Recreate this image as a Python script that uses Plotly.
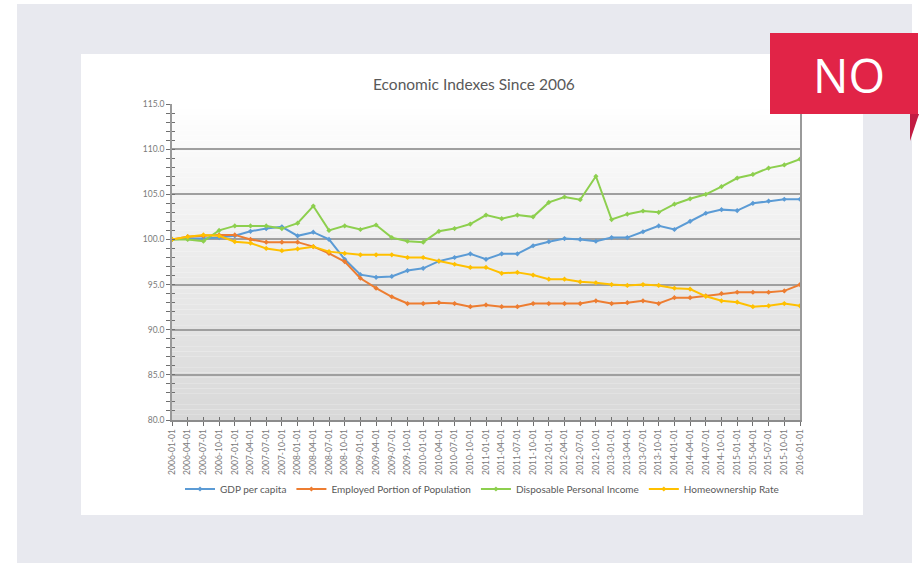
import plotly.graph_objects as go

dates = []
for yr in range(2006, 2016):
    for m in ("01", "04", "07", "10"):
        dates.append(f"{yr}-{m}-01")
dates.append("2016-01-01")

gdp = [100, 100.1, 100.1, 100.2, 100.4, 100.9, 101.2, 101.4, 100.4, 100.8,
       100.0, 97.8, 96.1, 95.8, 95.9, 96.55, 96.8, 97.6, 98.0, 98.4,
       97.8, 98.4, 98.4, 99.3, 99.75, 100.1, 100.0, 99.8, 100.2, 100.2,
       100.85, 101.5, 101.1, 102.0, 102.9, 103.3, 103.2, 104.0, 104.25, 104.45,
       104.45]
employed = [100, 100.3, 100.4, 100.5, 100.5, 100.0, 99.7, 99.7, 99.7, 99.2,
            98.45, 97.55, 95.7, 94.6, 93.65, 92.9, 92.9, 93.0, 92.9, 92.55,
            92.75, 92.55, 92.55, 92.9, 92.9, 92.9, 92.9, 93.2, 92.9, 93.0,
            93.2, 92.9, 93.55, 93.55, 93.75, 94.0, 94.15, 94.15, 94.15, 94.3,
            95.0]
income = [100, 100, 99.8, 101.0, 101.5, 101.5, 101.5, 101.2, 101.8, 103.7,
          101.0, 101.5, 101.1, 101.6, 100.2, 99.8, 99.7, 100.9, 101.2, 101.7,
          102.7, 102.3, 102.7, 102.5, 104.1, 104.7, 104.4, 107.0, 102.2, 102.8,
          103.15, 103.0, 103.9, 104.5, 105.0, 105.85, 106.8, 107.2, 107.9, 108.25,
          108.9]
homeown = [100, 100.3, 100.5, 100.4, 99.75, 99.6, 99.0, 98.75, 98.95, 99.2,
           98.65, 98.45, 98.3, 98.3, 98.3, 98.0, 98.0, 97.6, 97.25, 96.9,
           96.9, 96.25, 96.35, 96.05, 95.6, 95.6, 95.3, 95.2, 95.0, 94.9,
           95.0, 94.9, 94.6, 94.5, 93.7, 93.2, 93.05, 92.55, 92.65, 92.9,
           92.65]

series_names = ["GDP per capita", "Employed Portion of Population",
                "Disposable Personal Income", "Homeownership Rate"]
series_colors = ["#5b9bd5", "#ed7d31", "#8dcf4e", "#ffc000"]
series_values = [gdp, employed, income, homeown]

W, H = 920, 563
L, R, T, B = 172, 800, 104, 420


def xp(px):
    return (px - L) / (R - L)


def yp(py):
    return (B - py) / (B - T)


fig = go.Figure()
for name, col, vals in zip(series_names, series_colors, series_values):
    fig.add_trace(go.Scatter(
        x=dates, y=vals, name=name, mode="lines+markers",
        line=dict(color=col, width=2),
        marker=dict(color=col, size=4, symbol="diamond"),
    ))

# dummy trace to activate overlay axes (for crossing ticks)
fig.add_trace(go.Scatter(x=[None], y=[None], xaxis="x2", yaxis="y2",
                         showlegend=False, hoverinfo="skip"))

shapes = []
# gray panel
shapes.append(dict(type="rect", xref="paper", yref="paper",
                   x0=xp(17), x1=xp(912), y0=yp(563), y1=yp(4),
                   fillcolor="#e8e9ef", line=dict(width=0), layer="below"))
# white card
shapes.append(dict(type="rect", xref="paper", yref="paper",
                   x0=xp(81), x1=xp(863), y0=yp(515), y1=yp(54),
                   fillcolor="#ffffff", line=dict(width=0), layer="below"))
# gradient plot background
n = 60
top = (255, 255, 255)
bot = (216, 216, 216)
for i in range(n):
    t = (i + 0.5) / n
    c = tuple(int(round(top[k] + (bot[k] - top[k]) * t)) for k in range(3))
    shapes.append(dict(type="rect", xref="paper", yref="paper",
                       x0=0, x1=1, y0=1 - (i + 1) / n, y1=1 - i / n,
                       fillcolor="rgb(%d,%d,%d)" % c, line=dict(width=0),
                       layer="below"))
# red badge
shapes.append(dict(type="rect", xref="paper", yref="paper",
                   x0=xp(770), x1=xp(918), y0=yp(114), y1=yp(33),
                   fillcolor="#e12447", line=dict(width=0), layer="above"))
shapes.append(dict(type="path", xref="paper", yref="paper",
                   path="M %f %f L %f %f L %f %f Z" % (xp(910), yp(114), xp(919), yp(114), xp(910), yp(141)),
                   fillcolor="#c21c42", line=dict(width=0), layer="above"))

annotations = [
    dict(text="Economic Indexes Since 2006", xref="paper", yref="paper",
         x=xp(473.5), y=yp(84), xanchor="center", yanchor="middle",
         showarrow=False, font=dict(family="Lato", size=15.5, color="#595959")),
    dict(text="NO", xref="paper", yref="paper",
         x=xp(849), y=yp(75), xanchor="center", yanchor="middle",
         showarrow=False, font=dict(family="Open Sans", size=47, color="#ffffff")),
]

fig.update_layout(
    width=W, height=H,
    margin=dict(l=L, r=W - R, t=T, b=H - B, pad=0),
    paper_bgcolor="#ffffff",
    plot_bgcolor="rgba(0,0,0,0)",
    shapes=shapes,
    annotations=annotations,
    showlegend=True,
    legend=dict(orientation="h", x=xp(482), y=yp(489), xanchor="center",
                yanchor="middle", font=dict(family="Lato", size=10, color="#595959"),
                bgcolor="rgba(0,0,0,0)", itemwidth=30, tracegroupgap=0),
    xaxis=dict(type="category", categoryorder="array", categoryarray=dates,
               range=[0, len(dates) - 1], tickangle=-90,
               tickfont=dict(family="Lato", size=8.5, color="#7a7a7a"),
               ticks="outside", ticklen=4, tickcolor="#6f6f6f", tickwidth=1,
               showline=True, linecolor="#8c8c8c", linewidth=1.5,
               showgrid=False, zeroline=False, fixedrange=True),
    yaxis=dict(range=[80, 115], dtick=5, tick0=80, tickformat=".1f",
               tickfont=dict(family="Lato", size=8.5, color="#7a7a7a"),
               ticks="outside", ticklen=4, tickcolor="#6f6f6f", tickwidth=1,
               minor=dict(dtick=1, ticks="outside", ticklen=4, tickcolor="#6f6f6f", showgrid=False),
               showline=True, mirror=True, linecolor="#9a9a9a", linewidth=1.5,
               showgrid=True, gridcolor="#9f9f9f", gridwidth=2,
               zeroline=False, fixedrange=True),
    xaxis2=dict(overlaying="x", anchor="y2", side="bottom", range=[0, len(dates) - 1],
                dtick=1, tick0=0, ticks="inside", ticklen=3, tickcolor="#6f6f6f",
                showticklabels=False, showgrid=False, zeroline=False, showline=False,
                fixedrange=True),
    yaxis2=dict(overlaying="y", anchor="x2", side="left", range=[80, 115],
                dtick=1, tick0=80, ticks="inside", ticklen=3, tickcolor="#6f6f6f",
                showticklabels=False, showgrid=False, zeroline=False, showline=False,
                fixedrange=True),
)

fig.write_html("out.html")
